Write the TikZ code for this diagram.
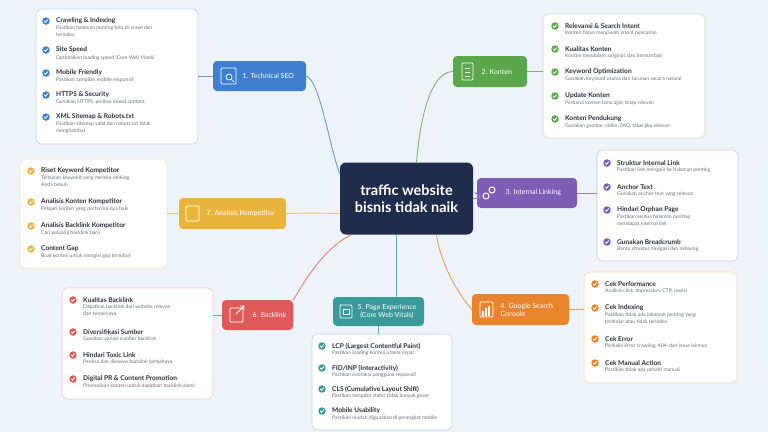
\documentclass[tikz,border=0pt]{standalone}
\usepackage{fontspec}
\setmainfont{Lato}
\begin{document}
\definecolor{bg}{HTML}{EEF3F9}
\definecolor{cnav}{HTML}{1F2C4C}
\definecolor{cblu}{HTML}{3F7FCF}
\definecolor{cgrn}{HTML}{5AA84B}
\definecolor{cpur}{HTML}{7E5EB5}
\definecolor{cora}{HTML}{E8842C}
\definecolor{ctea}{HTML}{3A9A9A}
\definecolor{cred}{HTML}{E05A5A}
\definecolor{cyel}{HTML}{E8B53A}
\definecolor{dtxt}{HTML}{2A2F3A}
\definecolor{gtxt}{HTML}{6A707C}
\tikzset{
 br/.style={rounded corners=4pt,fill=#1,text=white,font=\fontsize{6.5}{7.5}\selectfont,align=left,inner sep=0pt},
 pan/.style={rounded corners=6pt,fill=white,draw=#1!35,line width=0.6pt},
 con/.style={line width=0.9pt,draw=#1!80},
 chk/.style={circle,fill=#1,minimum size=7.5pt,inner sep=0pt},
 ttl/.style={anchor=west,font=\bfseries\fontsize{6.6}{7.5}\selectfont,text=dtxt,inner sep=0pt},
 dsc/.style={anchor=north west,font=\fontsize{5.1}{6.2}\selectfont,text=gtxt,inner sep=0pt,align=left},
 ico/.style={draw=white,line width=0.8pt,rounded corners=1pt},
 blab/.style={anchor=west,text=white,font=\fontsize{7}{8}\selectfont,align=left}
}
\newcommand\titem[7]{% name,x,y,color,title,desc
 \node[chk=#4] (#1c) at (#2,#3) {};
 \draw[white,line width=0.8pt] ([xshift=-1.8pt,yshift=0pt]#1c.center)--([xshift=-0.5pt,yshift=-1.3pt]#1c.center)--([xshift=1.8pt,yshift=1.4pt]#1c.center);
 \node[ttl] (#1t) at (#2+10,#3) {#5};
 \node[dsc] (#1d) at (#2+10,#3+#7) {#6};
}
\begin{tikzpicture}[x=1pt,y=-1pt]
\fill[bg] (0,0) rectangle (768,432);
\useasboundingbox (0,0) rectangle (768,432);
% center
\node[rounded corners=6pt,fill=cnav,text=white,font=\bfseries\fontsize{14.5}{17.5}\selectfont,align=center,minimum width=133pt,minimum height=72pt] (ctr) at (406.5,198.5) {traffic website\\bisnis tidak naik};
% branches
\node[br=cblu,minimum width=93pt,minimum height=30pt] (b1) at (259.5,76) {};
\node[br=cgrn,minimum width=74pt,minimum height=31pt] (b2) at (490,71.5) {};
\node[br=cpur,minimum width=100pt,minimum height=30pt] (b3) at (527,193) {};
\node[br=cora,minimum width=97pt,minimum height=31pt] (b4) at (520.5,309.5) {};
\node[br=ctea,minimum width=91pt,minimum height=29pt] (b5) at (378.5,311.5) {};
\node[br=cred,minimum width=71pt,minimum height=30pt] (b6) at (257.5,315) {};
\node[br=cyel,minimum width=107pt,minimum height=31pt] (b7) at (232.5,213.5) {};
\node[blab] (l1) at (239,76) {1. Technical SEO};
\node[blab] (l2) at (478,71.5) {2. Konten};
\node[blab] (l3) at (502,193) {3. Internal Linking};
\node[blab] (l4) at (497,309.5) {4. Google Search\\Console};
\node[blab,align=center] (l5) at (354,311.5) {5. Page Experience\\(Core Web Vitals)};
\node[blab] (l6) at (249,315) {6. Backlink};
\node[blab] (l7) at (203,213.5) {7. Analisis Kompetitor};
% icons
\draw[ico] (221,68) rectangle (236,84); \draw[white,line width=0.7pt] (229,77) circle (3pt) (231,79)--(234,82);
\draw[ico] (462,63) rectangle (473,80); \draw[white,line width=0.6pt] (465,68)--(470,68) (465,72)--(470,72) (465,76)--(470,76);
\draw[white,line width=1pt] (486,196) circle (3pt) (492,190) circle (3pt);
\draw[ico] (480,302) rectangle (493,317); \draw[white,line width=1.5pt] (483,316)--(483,311) (486,316)--(486,308) (489,316)--(489,306);
\draw[ico] (340,305) rectangle (352,318); \draw[white,line width=0.5pt] (343,309) rectangle (349,314);
\draw[ico] (230,308) rectangle (243,322); \draw[white,line width=0.8pt] (236,314)--(244,306) (240,306)--(244,306)--(244,310);
\draw[ico] (186,206) rectangle (199,221);
% connectors center-branches
\draw[con=cblu] (ctr.west) ++(0,-25) .. controls (330,150) and (320,80) .. (b1.east);
\draw[con=cgrn] (ctr.north) ++(10,0) .. controls (420,120) and (430,72) .. (b2.west);
\draw[con=cpur] (ctr.east) .. controls (490,198) and (470,192) .. (b3.west);
\draw[con=cora] (ctr.south) ++(30,0) .. controls (440,260) and (455,290) .. (b4.west);
\draw[con=ctea] (ctr.south) ++(-10,0) -- ++(0,62);
\draw[con=cred] (ctr.south) ++(-55,0) .. controls (320,250) and (300,290) .. (b6.north east);
\draw[con=cyel] (ctr.west) ++(0,15) .. controls (320,213) and (300,213) .. (b7.east);
% panels
\node[pan=cblu,minimum width=162pt,minimum height=135pt] (p1) at (117,76.5) {};
\node[pan=cgrn,minimum width=162pt,minimum height=124pt] (p2) at (624,76) {};
\node[pan=cpur,minimum width=141pt,minimum height=111pt] (p3) at (667.5,205.5) {};
\node[pan=cora,minimum width=153pt,minimum height=111pt] (p4) at (660.5,327.5) {};
\node[pan=ctea,minimum width=140pt,minimum height=96pt] (p5) at (382,382) {};
\node[pan=cred,minimum width=151pt,minimum height=111pt] (p6) at (137.5,343.5) {};
\node[pan=cyel,minimum width=147pt,minimum height=109pt] (p7) at (93.5,213.5) {};
\draw[con=cblu] (b1.west) -- (p1.east |- b1.west);
\draw[con=cgrn] (b2.east) -- (p2.west |- b2.east);
\draw[con=cpur] (b3.east) -- (p3.west |- b3.east);
\draw[con=cora] (b4.east) -- (p4.west |- b4.east);
\draw[con=ctea] (b5.south) -- (p5.north -| b5.south);
\draw[con=cred] (b6.west) -- (p6.east |- b6.west);
\draw[con=cyel] (b7.west) -- (p7.east |- b7.west);
% items
\titem{a1}{46}{21}{cblu}{Crawling \& Indexing}{Pastikan halaman penting bisa di-crawl dan\\terindex}{5}
\titem{a2}{46}{50}{cblu}{Site Speed}{Optimalkan loading speed (Core Web Vitals)}{5}
\titem{a3}{46}{73}{cblu}{Mobile Friendly}{Pastikan tampilan mobile responsif}{5}
\titem{a4}{46}{95}{cblu}{HTTPS \& Security}{Gunakan HTTPS, periksa mixed content}{5}
\titem{a5}{46}{117}{cblu}{XML Sitemap \& Robots.txt}{Pastikan sitemap valid dan robots.txt tidak\\menghambat}{5}
\titem{b1i}{555}{26}{cgrn}{Relevansi \& Search Intent}{Konten harus menjawab intent pencarian}{5}
\titem{b2i}{555}{49}{cgrn}{Kualitas Konten}{Konten mendalam, original, dan bermanfaat}{5}
\titem{b3i}{555}{72}{cgrn}{Keyword Optimization}{Gunakan keyword utama dan turunan secara natural}{5}
\titem{b4i}{555}{96}{cgrn}{Update Konten}{Perbarui konten lama agar tetap relevan}{5}
\titem{b5i}{555}{119}{cgrn}{Konten Pendukung}{Gunakan gambar, video, FAQ, tabel jika relevan}{5}
\titem{c1}{607}{163}{cpur}{Struktur Internal Link}{Pastikan link mengalir ke halaman penting}{5}
\titem{c2}{607}{187}{cpur}{Anchor Text}{Gunakan anchor text yang relevan}{5}
\titem{c3}{607}{210}{cpur}{Hindari Orphan Page}{Pastikan semua halaman penting\\mendapat internal link}{5}
\titem{c4}{607}{242}{cpur}{Gunakan Breadcrumb}{Bantu struktur navigasi dan indexing}{5}
\titem{d1}{595}{284}{cora}{Cek Performance}{Analisis click, impression, CTR, posisi}{5}
\titem{d2}{595}{308}{cora}{Cek Indexing}{Pastikan tidak ada halaman penting yang\\terblokir atau tidak terindex}{5}
\titem{d3}{595}{339}{cora}{Cek Error}{Perbaiki error crawling, 404, dan issue lainnya}{5}
\titem{d4}{595}{363}{cora}{Cek Manual Action}{Pastikan tidak ada penalti manual}{5}
\titem{e1}{322}{346}{ctea}{LCP (Largest Contentful Paint)}{Pastikan loading konten utama cepat}{5}
\titem{e2}{322}{368}{ctea}{FID/INP (Interactivity)}{Pastikan interaksi pengguna responsif}{5}
\titem{e3}{322}{389}{ctea}{CLS (Cumulative Layout Shift)}{Pastikan tampilan stabil, tidak banyak geser}{5}
\titem{e4}{322}{411}{ctea}{Mobile Usability}{Pastikan mudah digunakan di perangkat mobile}{5}
\titem{f1}{73}{300}{cred}{Kualitas Backlink}{Dapatkan backlink dari website relevan\\dan terpercaya}{5}
\titem{f2}{73}{332}{cred}{Diversifikasi Sumber}{Gunakan variasi sumber backlink}{5}
\titem{f3}{73}{355}{cred}{Hindari Toxic Link}{Periksa dan disavow backlink berbahaya}{5}
\titem{f4}{73}{379}{cred}{Digital PR \& Content Promotion}{Promosikan konten untuk dapatkan backlink alami}{5}
\titem{g1}{31}{171}{cyel}{Riset Keyword Kompetitor}{Temukan keyword yang mereka ranking,\\Anda belum}{5}
\titem{g2}{31}{202}{cyel}{Analisis Konten Kompetitor}{Pelajari konten yang performa-nya baik}{5}
\titem{g3}{31}{226}{cyel}{Analisis Backlink Kompetitor}{Cari peluang backlink baru}{5}
\titem{g4}{31}{249}{cyel}{Content Gap}{Buat konten untuk mengisi gap tersebut}{5}
\end{tikzpicture}
\end{document}
